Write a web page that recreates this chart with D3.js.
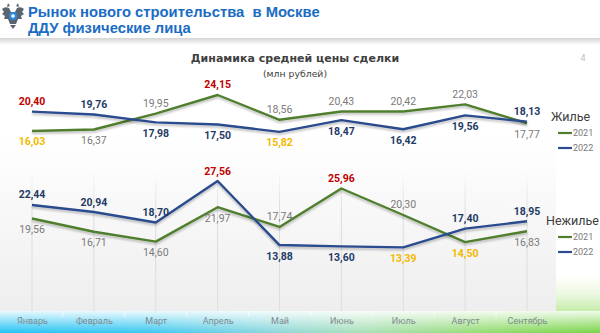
<!DOCTYPE html>
<html><head><meta charset="utf-8">
<script src="https://cdn.jsdelivr.net/npm/d3@7"></script>
<style>html,body{margin:0;padding:0;background:#fff;}svg{display:block;}text{white-space:pre;}</style>
</head><body>
<svg id="c" width="600" height="333"></svg>
<script>
const months = ["Январь","Февраль","Март","Апрель","Май","Июнь","Июль","Август","Сентябрь"];
const years = ["2021","2022"];
const housing2021 = [16.03,16.37,19.95,24.15,18.56,20.43,20.42,22.03,17.77];
const housing2022 = [20.40,19.76,17.98,17.50,15.82,18.47,16.42,19.56,18.13];
const nonHousing2021 = [19.56,16.71,14.60,21.97,17.74,25.96,20.30,14.50,16.83];
const nonHousing2022 = [22.44,20.94,18.70,27.56,13.88,13.60,13.39,17.40,18.95];
const panelNames = ["Жилье","Нежилье"];
const headerLines = ["Рынок нового строительства  в Москве","ДДУ физические лица"];
const chartTitle = "Динамика средней цены сделки";
const chartUnit = "(млн рублей)";
const pageNumber = "4";

const svg = d3.select("#c");
const W = 600, H = 333;
const defs = svg.append("defs");

// background gradient (plot area)
const bg = defs.append("linearGradient").attr("id","bg").attr("x1",0).attr("y1",0).attr("x2",0).attr("y2",1);
bg.append("stop").attr("offset","0").attr("stop-color","#ffffff");
bg.append("stop").attr("offset","0.35").attr("stop-color","#ffffff");
bg.append("stop").attr("offset","1").attr("stop-color","#eeeeee");
svg.append("rect").attr("x",0).attr("y",44).attr("width",556).attr("height",267).attr("fill","url(#bg)");

// right green glow
const glow = defs.append("linearGradient").attr("id","glow").attr("x1",0).attr("y1",0).attr("x2",0).attr("y2",1);
glow.append("stop").attr("offset","0").attr("stop-color","#ffffff");
glow.append("stop").attr("offset","0.5").attr("stop-color","#eef9e4");
glow.append("stop").attr("offset","1").attr("stop-color","#c6ecaa");
svg.append("rect").attr("x",556).attr("y",275).attr("width",44).attr("height",36).attr("fill","url(#glow)");

// header shadow
const hs = defs.append("linearGradient").attr("id","hs").attr("x1",0).attr("y1",0).attr("x2",0).attr("y2",1);
hs.append("stop").attr("offset","0").attr("stop-color","#d4d4d4");
hs.append("stop").attr("offset","1").attr("stop-color","#ffffff");
svg.append("rect").attr("x",0).attr("y",38).attr("width",W).attr("height",7).attr("fill","url(#hs)");

// bottom band
const band = defs.append("linearGradient").attr("id","band").attr("x1",0).attr("y1",0).attr("x2",1).attr("y2",0);
[["0","#22c3f4"],["0.25","#3cc8f0"],["0.45","#8ad6dc"],["0.6","#a9e0b8"],["0.8","#93dc73"],["1","#78d447"]]
  .forEach(s=>band.append("stop").attr("offset",s[0]).attr("stop-color",s[1]));
svg.append("rect").attr("x",0).attr("y",311).attr("width",W).attr("height",22).attr("fill","url(#band)");
const bandTop = defs.append("linearGradient").attr("id","bandTop").attr("x1",0).attr("y1",0).attr("x2",0).attr("y2",1);
bandTop.append("stop").attr("offset","0").attr("stop-color","#ffffff").attr("stop-opacity",0.9);
bandTop.append("stop").attr("offset","0.45").attr("stop-color","#ffffff").attr("stop-opacity",0.5);
bandTop.append("stop").attr("offset","1").attr("stop-color","#ffffff").attr("stop-opacity",0);
svg.append("rect").attr("x",0).attr("y",311).attr("width",W).attr("height",22).attr("fill","url(#bandTop)");

// scales
const x = d3.scalePoint().domain(months).range([32, 527]);
const step = x.step();
const yTop = d3.scaleLinear().domain([0, 26]).range([202, 86.8]);
const yBot = d3.scaleLinear().domain([0, 30]).range([310, 169.6]);

// grid lines
const gl = defs.append("linearGradient").attr("id","gl").attr("gradientUnits","userSpaceOnUse")
  .attr("x1",0).attr("y1",170).attr("x2",0).attr("y2",311);
gl.append("stop").attr("offset","0").attr("stop-color","#dcdcdc").attr("stop-opacity",0);
gl.append("stop").attr("offset","0.3").attr("stop-color","#dcdcdc").attr("stop-opacity",1);
gl.append("stop").attr("offset","1").attr("stop-color","#dedede").attr("stop-opacity",1);
svg.append("g").selectAll("rect").data(months).join("rect")
  .attr("x", d=>x(d)-0.5).attr("y",170).attr("width",1).attr("height",141).attr("fill","url(#gl)");

// band separators
svg.append("g").selectAll("line").data(months.slice(0,-1)).join("line")
  .attr("x1", d=>x(d)+step/2).attr("x2", d=>x(d)+step/2).attr("y1",311).attr("y2",317)
  .attr("stroke","#ffffff").attr("stroke-opacity",0.7).attr("stroke-width",1);

// x axis labels
const xAxis = d3.axisBottom(x).tickSize(0).tickPadding(0);
const ax = svg.append("g").attr("transform","translate(0,318)").call(xAxis);
ax.select(".domain").remove();
ax.selectAll("text").attr("font-family","Roboto, sans-serif").attr("font-size","9px").attr("fill","#7f8a90").attr("dy","0.71em");

// line shadow filter
const f = defs.append("filter").attr("id","sh").attr("x","-5%").attr("y","-20%").attr("width","110%").attr("height","160%");
f.append("feGaussianBlur").attr("in","SourceAlpha").attr("stdDeviation",1.2);
f.append("feOffset").attr("dx",0).attr("dy",2).attr("result","b");
f.append("feComponentTransfer").append("feFuncA").attr("type","linear").attr("slope",0.25);
const m = f.append("feMerge"); m.append("feMergeNode"); m.append("feMergeNode").attr("in","SourceGraphic");

const colors = {"2021":"#4f7f2d","2022":"#2a4b8d"};
const labelColors = {"2021":"#7a7a7a","2022":"#1f3a66"};

function drawPanel(s21, s22, y, name, legendY, legendX) {
  const series = [{year:"2021", vals:s21},{year:"2022", vals:s22}];
  const line = d3.line().x((d,i)=>x(months[i])).y(d=>y(d));
  const g = svg.append("g");
  series.forEach(s=>{
    g.append("path").datum(s.vals).attr("d",line).attr("fill","none")
      .attr("stroke",colors[s.year]).attr("stroke-width",2.4).attr("stroke-linejoin","round")
      .attr("filter","url(#sh)");
  });
  series.forEach((s,si)=>{
    const other = series[1-si].vals;
    const mx = d3.max(s.vals), mn = d3.min(s.vals);
    g.append("g").selectAll("text").data(s.vals).join("text")
      .attr("x",(d,i)=>x(months[i]))
      .attr("y",(d,i)=> d >= other[i] ? y(d)-10 : y(d)+11)
      .attr("text-anchor","middle").attr("dominant-baseline","central")
      .attr("font-family","Roboto, sans-serif").attr("font-size","10.5px")
      .attr("font-weight", d => (d===mx||d===mn||s.year==="2022") ? "bold" : "normal")
      .attr("fill", d => d===mx ? "#c00000" : d===mn ? "#f2b900" : labelColors[s.year])
      .text(d=>d3.format(".2f")(d).replace(".",","));
  });
  // legend
  const lg = svg.append("g");
  lg.append("text").attr("x",legendX).attr("y",legendY).attr("dominant-baseline","central")
    .attr("font-family","Roboto, sans-serif").attr("font-size","12.5px").attr("fill","#404040").text(name);
  years.forEach((yr,i)=>{
    const yy = legendY + 17 + i*15;
    lg.append("line").attr("x1",558).attr("x2",572).attr("y1",yy).attr("y2",yy)
      .attr("stroke",colors[yr]).attr("stroke-width",2.2);
    lg.append("text").attr("x",573).attr("y",yy).attr("dominant-baseline","central")
      .attr("font-family","Roboto, sans-serif").attr("font-size","9px").attr("fill","#7a7a7a").text(yr);
  });
}
drawPanel(housing2021, housing2022, yTop, panelNames[0], 116, 551);
drawPanel(nonHousing2021, nonHousing2022, yBot, panelNames[1], 220, 546);

// header
const hdr = svg.append("g");
headerLines.forEach((t,i)=>{
  hdr.append("text").attr("x",28).attr("y",17+i*16).attr("font-family","'Liberation Sans', Arial, sans-serif")
    .attr("font-weight","bold").attr("font-size","14.8px").attr("fill","#1a6cc4").text(t);
});
// simple emblem
const lo = svg.append("g").attr("transform","translate(13,15)");
lo.append("path").attr("d","M-11,-6 Q-8,-9 -4,-7 L-2,-3 L2,-3 L4,-7 Q8,-9 11,-6 L9,-3 L11,-1 L8,1 L9,4 L5,4 L3,9 L-3,9 L-5,4 L-9,4 L-8,1 L-11,-1 L-9,-3 Z")
  .attr("fill","#5a6470");
lo.append("circle").attr("cx",0).attr("cy",1).attr("r",4).attr("fill","#2a8be0");
lo.append("circle").attr("cx",0).attr("cy",1).attr("r",1.8).attr("fill","#ffffff");
lo.append("path").attr("d","M-5,-12 L-3,-9 L-6,-8 Z M5,-12 L3,-9 L6,-8 Z").attr("fill","#5a6470");
lo.append("path").attr("d","M-3,10 L3,10 L0,14 Z").attr("fill","#5a6470");

// chart title
svg.append("text").attr("x",295).attr("y",58).attr("text-anchor","middle").attr("dominant-baseline","central")
  .attr("font-family","'DejaVu Sans', Verdana, sans-serif").attr("font-weight","bold").attr("font-size","11px")
  .attr("fill","#404040").text(chartTitle);
svg.append("text").attr("x",295).attr("y",73).attr("text-anchor","middle").attr("dominant-baseline","central")
  .attr("font-family","'DejaVu Sans', Verdana, sans-serif").attr("font-size","9.3px")
  .attr("fill","#404040").text(chartUnit);
svg.append("text").attr("x",583).attr("y",58).attr("text-anchor","middle").attr("dominant-baseline","central")
  .attr("font-family","Roboto, sans-serif").attr("font-size","9px").attr("fill","#c0c0c0").text(pageNumber);
</script>
</body></html>
